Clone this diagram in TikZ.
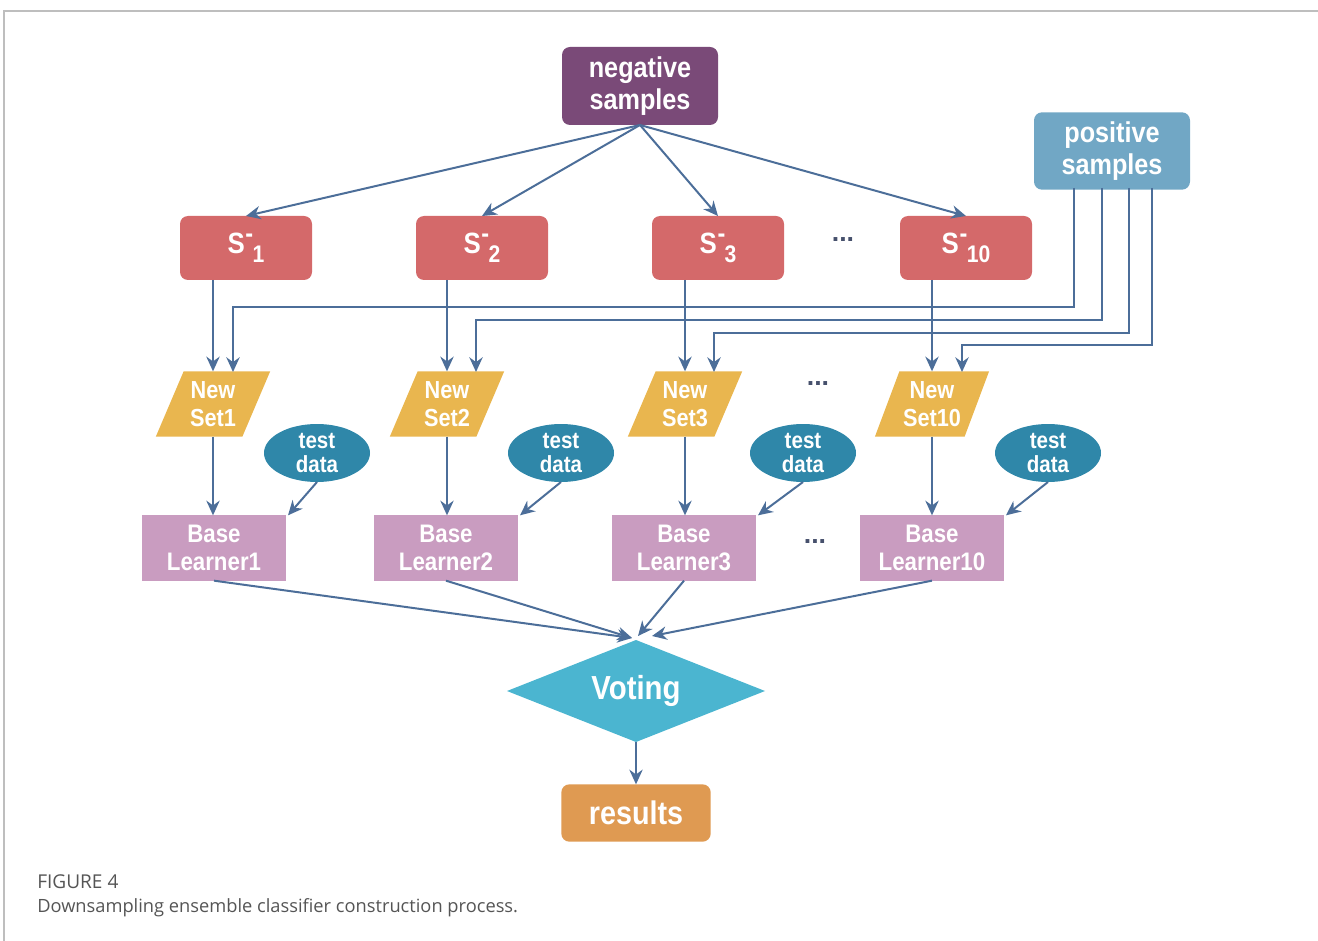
\documentclass[tikz,border=0pt]{standalone}
\usepackage{fontspec}
\setmainfont{Liberation Sans}
\newfontfamily\nar[FakeStretch=0.88]{Liberation Sans}
\newfontfamily\capfont{Open Sans}
\usetikzlibrary{shapes.geometric,arrows.meta,calc}
\definecolor{negc}{RGB}{122,74,120}
\definecolor{posc}{RGB}{113,167,197}
\definecolor{sc}{RGB}{212,105,106}
\definecolor{nsc}{RGB}{233,182,79}
\definecolor{tdc}{RGB}{47,135,169}
\definecolor{blc}{RGB}{201,156,192}
\definecolor{votc}{RGB}{75,181,208}
\definecolor{resc}{RGB}{223,154,82}
\definecolor{linec}{RGB}{76,110,153}
\definecolor{dotc}{RGB}{70,80,108}
\definecolor{framec}{RGB}{190,190,190}
\definecolor{capc}{RGB}{85,85,85}
\newcommand{\Slab}[1]{S\kern0.5pt\raisebox{0.38em}{\fontsize{20}{20}\selectfont -}\kern-0.5pt\raisebox{-0.3em}{\fontsize{18}{18}\selectfont #1}}
\begin{document}
\begin{tikzpicture}[x=0.75pt,y=-0.75pt,
  base/.style={text=white, align=center, inner sep=0pt, outer sep=0pt},
  rbox/.style={base, rounded corners=6pt},
  negbox/.style={rbox, fill=negc, minimum width=117pt, minimum height=58.5pt,
     font=\nar\bfseries\fontsize{21.5}{24}\selectfont},
  posbox/.style={rbox, fill=posc, minimum width=117pt, minimum height=58pt,
     font=\nar\bfseries\fontsize{21.5}{24}\selectfont},
  sbox/.style={rbox, fill=sc, minimum width=99pt, minimum height=48pt,
     font=\nar\bfseries\fontsize{22}{24}\selectfont},
  nsbox/.style={base, fill=nsc, trapezium, trapezium left angle=64, trapezium right angle=116,
     trapezium stretches=true, minimum width=86pt, minimum height=49pt,
     font=\nar\bfseries\fontsize{18.5}{20.5}\selectfont},
  tdbox/.style={base, fill=tdc, ellipse, minimum width=79.5pt, minimum height=43.5pt,
     font=\nar\bfseries\fontsize{17.5}{18.5}\selectfont},
  blbox/.style={base, fill=blc, minimum width=108pt, minimum height=49pt,
     font=\nar\bfseries\fontsize{19}{21.5}\selectfont},
  votbox/.style={base, fill=votc, diamond, aspect=2.53, minimum width=193.5pt, minimum height=76.5pt,
     font=\nar\bfseries\fontsize{25}{27}\selectfont},
  resbox/.style={rbox, fill=resc, minimum width=112pt, minimum height=43pt,
     font=\nar\bfseries\fontsize{24.5}{26}\selectfont},
  dotsnode/.style={text=dotc, inner sep=0pt, font=\bfseries\fontsize{20}{20}\selectfont},
  arr/.style={draw=linec, line width=1.5pt, -{Stealth[length=11pt,width=10pt]}},
]
\useasboundingbox (0,0) rectangle (1318,941);
\draw[framec, line width=1pt] (4,941) -- (4,11) -- (1318,11);

\node[negbox] (neg) at (640,86) {negative\\samples};
\node[posbox] (pos) at (1112,151) {positive\\samples};

\node[sbox] (s1) at (246,248) {\Slab{1}};
\node[sbox] (s2) at (482,248) {\Slab{2}};
\node[sbox] (s3) at (718,248) {\Slab{3}};
\node[sbox] (s10) at (966,248) {\Slab{10}};
\node[dotsnode] (d1) at (843,240) {...};

\node[nsbox] (ns1) at (213,404) {New\\Set1};
\node[nsbox] (ns2) at (447,404) {New\\Set2};
\node[nsbox] (ns3) at (685,404) {New\\Set3};
\node[nsbox] (ns10) at (932,404) {New\\Set10};
\node[dotsnode] (d2) at (818,384) {...};

\node[tdbox] (td1) at (317,453) {test\\data};
\node[tdbox] (td2) at (561,453) {test\\data};
\node[tdbox] (td3) at (803,453) {test\\data};
\node[tdbox] (td10) at (1048,453) {test\\data};

\node[blbox] (bl1) at (214,548) {Base\\Learner1};
\node[blbox] (bl2) at (446,548) {Base\\Learner2};
\node[blbox] (bl3) at (684,548) {Base\\Learner3};
\node[blbox] (bl10) at (932,548) {Base\\Learner10};
\node[dotsnode] (d3) at (815,542) {...};

\node[votbox] (vote) at (636,691) {Voting};
\node[resbox] (res) at (636,813) {results};

% negative -> S
\foreach \t in {s1,s2,s3,s10} \draw[arr] (neg.south) -- (\t.north);

% S -> New Set
\foreach \a/\b in {s1/ns1,s2/ns2,s3/ns3,s10/ns10} \draw[arr] (\b.north |- \a.south) -- (\b.north);

% positive -> New Set
\coordinate (p1) at (1074,188);
\coordinate (p2) at (1102,188);
\coordinate (p3) at (1129,188);
\coordinate (p4) at (1152,188);
\coordinate (q1) at (233,372);
\coordinate (q2) at (476,372);
\coordinate (q3) at (714,372);
\coordinate (q4) at (962,372);
\draw[arr] (p1) -- (1074,307) -- (233,307) -- (q1);
\draw[arr] (p2) -- (1102,320) -- (476,320) -- (q2);
\draw[arr] (p3) -- (1129,333) -- (714,333) -- (q3);
\draw[arr] (p4) -- (1152,345) -- (962,345) -- (q4);

% New Set -> Base Learner
\foreach \a/\b in {ns1/bl1,ns2/bl2,ns3/bl3,ns10/bl10} \draw[arr] (\a.south) -- (\a.south |- \b.north);

% test data -> Base Learner
\foreach \a/\b in {td1/bl1,td2/bl2,td3/bl3,td10/bl10} \draw[arr] (\a.south) -- ($(\b.north east)+(2,0)$);

% Base Learner -> Voting
\draw[arr] (bl1.south) -- ($(vote.north)+(-4,-2)$);
\draw[arr] (bl2.south) -- ($(vote.north)+(-4,-2)$);
\draw[arr] (bl3.south) -- ($(vote.north)+(2,-4)$);
\draw[arr] (bl10.south) -- ($(vote.north)+(16,-4)$);

% Voting -> results
\draw[arr] (vote.south) -- (res.north);

% caption
\node[anchor=base west, inner sep=0pt, text=capc, font=\capfont\fontsize{14.3}{16}\selectfont] (cap1) at (37,888) {FIGURE 4};
\node[anchor=base west, inner sep=0pt, text=capc, font=\capfont\fontsize{13.7}{16}\selectfont] (cap2) at (37,912) {Downsampling ensemble classifier construction process.};
\end{tikzpicture}
\end{document}
